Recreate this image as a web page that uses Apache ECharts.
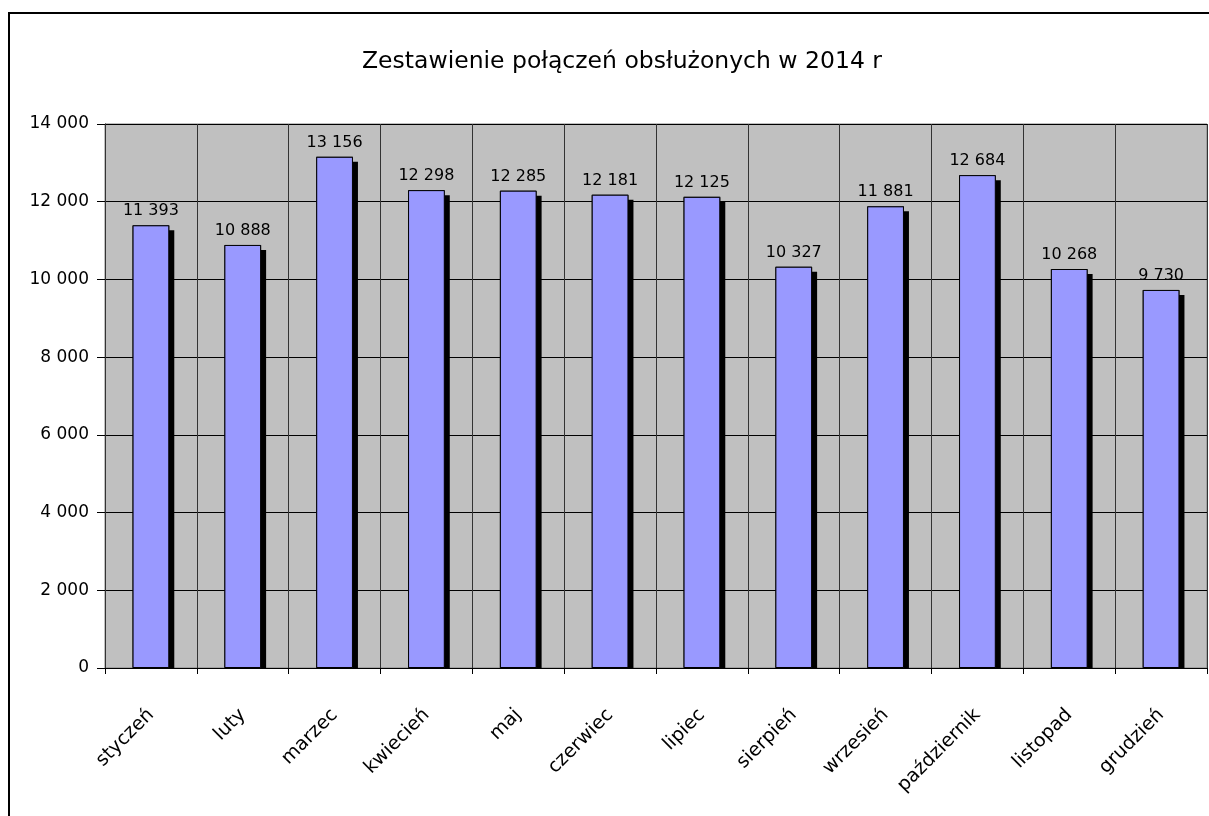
<!DOCTYPE html>
<html>
<head>
<meta charset="utf-8">
<script src="https://cdn.jsdelivr.net/npm/echarts@6/dist/echarts.min.js"></script>
<style>
  html, body { margin: 0; padding: 0; background: #fff; }
  #main { width: 1209px; height: 816px; }
</style>
</head>
<body>
<div id="main"></div>
<script>
// miesiące i liczba połączeń
const months = ['styczeń', 'luty', 'marzec', 'kwiecień', 'maj', 'czerwiec', 'lipiec', 'sierpień', 'wrzesień', 'październik', 'listopad', 'grudzień'];
const calls = [11393, 10888, 13156, 12298, 12285, 12181, 12125, 10327, 11881, 12684, 10268, 9730];
const yTicks = [0, 2000, 4000, 6000, 8000, 10000, 12000, 14000];

const font = 'DejaVu Sans';
function fmt(v) {
  return String(v).replace(/\B(?=(\d{3})+(?!\d))/g, ' ');
}

var chart = echarts.init(document.getElementById('main'));
var opt = {
  backgroundColor: '#fff',
  animation: false,
  title: {
    text: 'Zestawienie połączeń obsłużonych w 2014 r',
    left: 617,
    textAlign: 'center',
    top: 45,
    textStyle: { fontFamily: font, fontSize: 23.5, fontWeight: 'normal', color: '#000' }
  },
  grid: {
    left: 105, top: 124, width: 1102, height: 544,
    show: true,
    backgroundColor: '#c0c0c0',
    borderColor: '#808080',
    borderWidth: 1
  },
  xAxis: {
    type: 'category',
    data: months,
    z: 10,
    axisLine: { lineStyle: { color: '#000', width: 1 } },
    axisTick: { show: true, length: 6, lineStyle: { color: '#000' } },
    splitLine: { show: true, lineStyle: { color: '#333', width: 1 } },
    axisLabel: {
      interval: 0, rotate: 45, margin: 44,
      fontFamily: font, fontSize: 19, color: '#000'
    }
  },
  yAxis: {
    type: 'value',
    min: yTicks[0],
    max: yTicks[yTicks.length - 1],
    interval: 2000,
    axisLine: { show: true, lineStyle: { color: '#000' } },
    axisTick: { show: true, length: 8, lineStyle: { color: '#000' } },
    splitLine: { show: true, lineStyle: { color: '#000', width: 1 } },
    axisLabel: {
      margin: 16, fontFamily: font, fontSize: 17, color: '#000',
      formatter: fmt
    }
  },
  graphic: [
    {
      type: 'rect', z: 5, silent: true,
      shape: { x: 106, y: 669, width: 1102, height: 7 },
      style: { fill: '#fff' }
    },
    {
      type: 'rect', z: 20, silent: true,
      shape: { x: 9, y: 13, width: 1220, height: 820 },
      style: { fill: 'none', stroke: '#000', lineWidth: 2 }
    }
  ],
  series: [
    {
      // cień słupków
      type: 'bar',
      data: calls,
      barWidth: '40%',
      silent: true,
      itemStyle: {
        color: '#000',
        shadowColor: '#000',
        shadowBlur: 0,
        shadowOffsetX: 5,
        shadowOffsetY: 5
      }
    },
    {
      type: 'bar',
      data: calls,
      barWidth: '40%',
      barGap: '-100%',
      itemStyle: {
        color: '#9999ff',
        borderColor: '#000',
        borderWidth: 1
      },
      label: {
        show: true, position: 'top', distance: 6,
        fontFamily: font, fontSize: 16, color: '#000',
        formatter: function (p) { return fmt(p.value); }
      }
    }
  ]
};
chart.setOption(opt);
</script>
</body>
</html>
